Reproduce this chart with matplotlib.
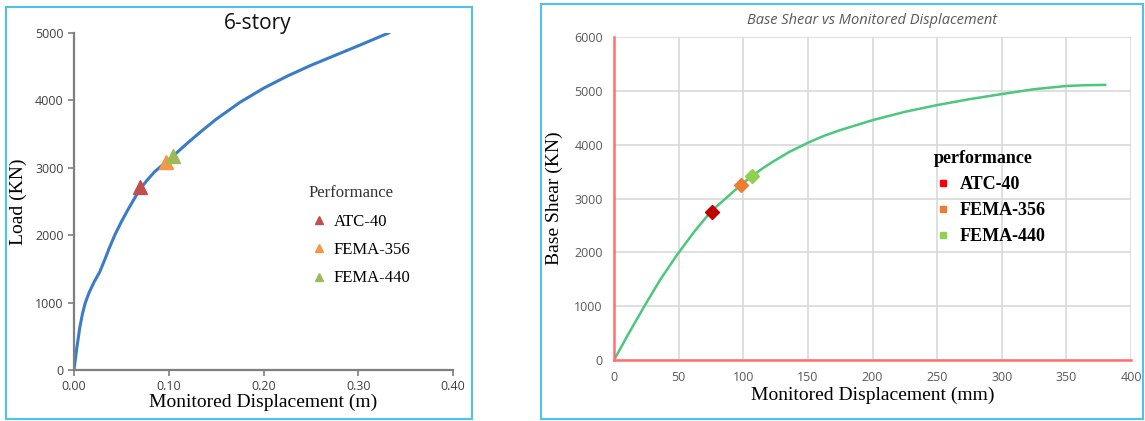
import matplotlib
matplotlib.use("Agg")
import matplotlib.pyplot as plt
from matplotlib.patches import Rectangle
from matplotlib.lines import Line2D

# lewy wykres: 6-story, przemieszczenie w m
disp_m = [0, 0.003, 0.006, 0.009, 0.012, 0.016, 0.021, 0.027, 0.032, 0.037,
          0.043, 0.05, 0.057, 0.064, 0.07, 0.078, 0.085, 0.097, 0.105, 0.12,
          0.135, 0.15, 0.175, 0.2, 0.225, 0.25, 0.275, 0.3, 0.332]
load_kn = [0, 330, 620, 840, 1000, 1150, 1300, 1450, 1620, 1800,
           2000, 2200, 2380, 2550, 2690, 2830, 2940, 3085, 3180, 3370,
           3550, 3720, 3970, 4180, 4360, 4520, 4665, 4810, 5000]

# prawy wykres: przemieszczenie w mm
disp_mm = [0, 12, 24, 36, 49, 62, 75, 88, 98, 107, 115, 123, 136, 150, 162,
           175, 200, 225, 250, 275, 300, 325, 350, 365, 380]
shear_kn = [0, 520, 1020, 1500, 1960, 2380, 2760, 3035, 3250, 3420, 3560,
            3685, 3870, 4035, 4160, 4270, 4455, 4610, 4735, 4845, 4940, 5030,
            5090, 5105, 5110]

methods = ["ATC-40", "FEMA-356", "FEMA-440"]
left_pts_x = [0.070, 0.097, 0.105]
left_pts_y = [2720, 3085, 3180]
right_pts_x = [75.5, 98, 107]
right_pts_y = [2758, 3248, 3425]

left_colors = ["#C0504D", "#F79646", "#9BBB59"]
right_colors = ["#C00000", "#ED7D31", "#92D050"]
right_legend_colors = ["#FF0000", "#ED7D31", "#92D050"]

SERIF = "Liberation Serif"
SANS = "Open Sans"
TICK_GRAY = "#595959"

fig = plt.figure(figsize=(11.45, 4.21), dpi=100)

# ramki paneli
fig.patches.append(Rectangle((6 / 1145, 2 / 421), 466 / 1145, 412 / 421,
                             transform=fig.transFigure, fill=False,
                             edgecolor="#4FC1F0", linewidth=1.5))
fig.patches.append(Rectangle((541 / 1145, 2 / 421), 602 / 1145, 415 / 421,
                             transform=fig.transFigure, fill=False,
                             edgecolor="#4FC1F0", linewidth=1.5))

# ---- lewy wykres ----
ax1 = fig.add_axes([74 / 1145, 1 - 370 / 421, 379 / 1145, 337 / 421])
ax1.plot(disp_m, load_kn, color="#3A7CC7", linewidth=2.2, zorder=2)
for x, y, c in zip(left_pts_x, left_pts_y, left_colors):
    ax1.plot(x, y, marker="^", markersize=10, color=c, linestyle="none", zorder=3)
ax1.set_xlim(0, 0.40)
ax1.set_ylim(0, 5000)
ax1.set_xticks([0, 0.1, 0.2, 0.3, 0.4])
ax1.set_xticklabels([f"{v:.2f}" for v in [0, 0.1, 0.2, 0.3, 0.4]])
ax1.set_yticks(range(0, 5001, 1000))
for s in ["top", "right"]:
    ax1.spines[s].set_visible(False)
for s in ["left", "bottom"]:
    ax1.spines[s].set_color("#7F7F7F")
    ax1.spines[s].set_linewidth(1.6)
ax1.tick_params(colors="#7F7F7F", labelcolor="#404040", width=1.2, length=4)
for lab in ax1.get_xticklabels() + ax1.get_yticklabels():
    lab.set_fontfamily(SANS)
    lab.set_fontsize(9)
ax1.set_xlabel("Monitored Displacement (m)", fontfamily=SERIF, fontsize=14,
               labelpad=0)
ax1.set_ylabel("Load (KN)", fontfamily=SERIF, fontsize=14, labelpad=6)
fig.text(258 / 1145, 1 - 23 / 421, "6-story", fontfamily=SANS, fontsize=15,
         ha="center", va="center", color="#111111")

h1 = [Line2D([], [], marker="^", markersize=6, color=c, linestyle="none")
      for c in left_colors]
leg1 = ax1.legend(h1, methods, title="Performance", loc="upper left",
                  bbox_to_anchor=(294 / 1145, 1 - 170 / 421),
                  bbox_transform=fig.transFigure, frameon=False,
                  prop={"family": SERIF, "size": 12}, labelspacing=0.75,
                  handletextpad=0.3, handlelength=1.2, alignment="left")
leg1.get_title().set_fontfamily(SERIF)
leg1.get_title().set_fontsize(12)
leg1.get_title().set_color("#333333")

# ---- prawy wykres ----
ax2 = fig.add_axes([614 / 1145, 1 - 360 / 421, 517 / 1145, 323 / 421])
ax2.plot(disp_mm, shear_kn, color="#4CC77E", linewidth=1.8, zorder=2)
for x, y, c in zip(right_pts_x, right_pts_y, right_colors):
    ax2.plot(x, y, marker="D", markersize=7, color=c, linestyle="none", zorder=3)
ax2.set_xlim(0, 400)
ax2.set_ylim(0, 6000)
ax2.set_xticks(range(0, 401, 50))
ax2.set_yticks(range(0, 6001, 1000))
ax2.grid(True, color="#D9D9D9", linewidth=1.2)
ax2.set_axisbelow(True)
for s in ["top", "right"]:
    ax2.spines[s].set_visible(False)
for s in ["left", "bottom"]:
    ax2.spines[s].set_color("#FF6E6E")
    ax2.spines[s].set_linewidth(1.8)
    ax2.spines[s].set_zorder(4)
ax2.tick_params(length=0, labelcolor=TICK_GRAY, pad=8)
for lab in ax2.get_xticklabels() + ax2.get_yticklabels():
    lab.set_fontfamily(SANS)
    lab.set_fontsize(9)
ax2.set_xlabel("Monitored Displacement (mm)", fontfamily=SERIF, fontsize=14,
               labelpad=2)
ax2.set_ylabel("Base Shear (KN)", fontfamily=SERIF, fontsize=14, labelpad=8)
ax2.set_title("Base Shear vs Monitored Displacement", fontfamily=SANS,
              fontsize=10.5, style="italic", color="#595959", pad=9)

h2 = [Line2D([], [], marker="s", markersize=4, color=c, linestyle="none")
      for c in right_legend_colors]
leg2 = ax2.legend(h2, methods, title="performance", loc="upper left",
                  bbox_to_anchor=(918 / 1145, 1 - 134 / 421),
                  bbox_transform=fig.transFigure, frameon=False,
                  prop={"family": SERIF, "size": 13, "weight": "bold"},
                  labelspacing=0.5, handletextpad=0.4, handlelength=1.0,
                  alignment="left")
leg2.get_title().set_fontfamily(SERIF)
leg2.get_title().set_fontsize(13)
leg2.get_title().set_fontweight("bold")

fig.savefig("out.png", dpi=100)
